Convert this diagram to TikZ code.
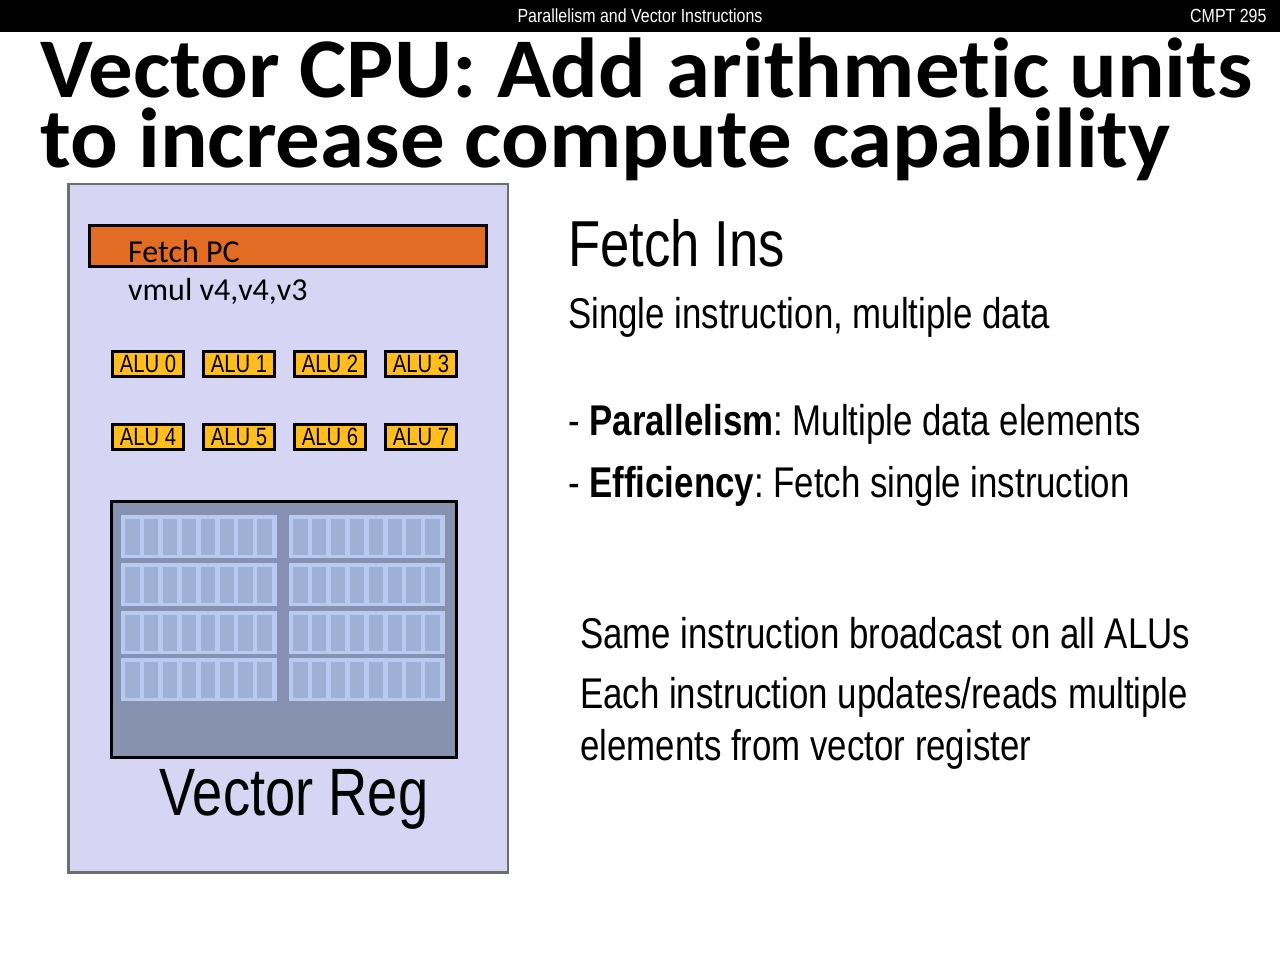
\documentclass[tikz,border=0pt]{standalone}
\usepackage{fontspec}
\setmainfont{Carlito}[Ligatures=NoCommon]
\newfontfamily\titlefont[FakeStretch=1.047, Ligatures=NoCommon]{Carlito}
\newfontfamily\narrowfont[FakeStretch=0.81]{Liberation Sans}
\newfontfamily\barfont[FakeStretch=0.84]{Liberation Sans}
\usetikzlibrary{positioning}
\frenchspacing

\definecolor{cpubg}{HTML}{D6D6F4}
\definecolor{cpuborder}{HTML}{6E6E6E}
\definecolor{fetchorange}{HTML}{E36C24}
\definecolor{alufill}{HTML}{FFBE1E}
\definecolor{regfill}{HTML}{8692AF}
\definecolor{regframe}{HTML}{B8CAF2}
\definecolor{regcell}{HTML}{9EB0D3}

\begin{document}
\begin{tikzpicture}[x=1pt, y=-1pt,
  slidetext/.style={anchor=base west, inner sep=0pt, font=\narrowfont\fontsize{43}{43}\selectfont},
  titletext/.style={anchor=base west, inner sep=0pt, text height=54pt, text depth=12pt, font=\titlefont\bfseries\fontsize{85}{85}\selectfont},
  alubox/.style={draw=black, line width=3pt, fill=alufill, minimum width=71pt, minimum height=25pt, inner sep=0pt, font=\narrowfont\fontsize{25}{25}\selectfont}]

\useasboundingbox (0,0) rectangle (1280,960);

% Draw the header bar
\fill[black] (0,0) rectangle (1280,32);
\node[white, font=\barfont\fontsize{19}{19}\selectfont] (barmid) at (640,16) {Parallelism and Vector Instructions};
\node[white, anchor=east, font=\barfont\fontsize{19}{19}\selectfont] (barright) at (1270,16) {CMPT 295};

% Slide title
\node[titletext] (title1) at (40,98) {Vector CPU: Add arithmetic units};
\node[titletext] (title2) at (40,168) {to increase compute capability};

% Draw the CPU box
\node[draw=cpuborder, line width=2.5pt, fill=cpubg, anchor=north west, inner sep=0pt, minimum width=439.5pt, minimum height=688pt] (cpu) at (67,183) {};

% Fetch unit and the instruction
\node[draw=black, line width=3pt, fill=fetchorange, anchor=north west, inner sep=0pt, minimum width=397pt, minimum height=41pt] (fetch) at (88,224) {};
\node[anchor=base west, inner sep=0pt, font=\fontsize{32}{32}\selectfont] (fetchlbl) at (128,262) {Fetch PC};
\node[anchor=base west, inner sep=0pt, font=\fontsize{32}{32}\selectfont] (instr) at (128,300) {vmul v4,v4,v3};

% Mark the ALUs
\foreach \n/\x/\y in {0/148/364, 1/239/364, 2/330/364, 3/421/364,
                      4/148/437, 5/239/437, 6/330/437, 7/421/437}
  \node[alubox] (alu\n) at (\x,\y) {ALU \n};

% Draw the vector register file
\node[draw=black, line width=3pt, fill=regfill, anchor=north west, inner sep=0pt, minimum width=345pt, minimum height=256pt] (vreg) at (110,500) {};
\foreach \bx in {121,289}
  \foreach \by in {515,563,611,658} {
    \fill[regframe] (\bx,\by) rectangle ++(156,43);
    \foreach \c in {0,...,7}
      \fill[regcell] (\bx+4+\c*18.9,\by+3.5) rectangle ++(14.5,36);
  }
\node[anchor=base, inner sep=0pt, font=\narrowfont\fontsize{67}{67}\selectfont] (vreglbl) at (294,815) {Vector Reg};

% Text on the right
\node[slidetext, font=\narrowfont\fontsize{65}{65}\selectfont] (fetchins) at (568,266) {Fetch Ins};
\node[slidetext] (simd) at (568,328) {Single instruction, multiple data};
\node[slidetext] (para) at (568,435) {- \textbf{Parallelism}: Multiple data elements};
\node[slidetext] (effi) at (568,497) {- \textbf{Efficiency}: Fetch single instruction};
\node[slidetext] (same) at (580,648) {Same instruction broadcast on all ALUs};
\node[slidetext] (each) at (580,708) {Each instruction updates/reads multiple};
\node[slidetext] (elem) at (580,760) {elements from vector register};

\end{tikzpicture}
\end{document}
